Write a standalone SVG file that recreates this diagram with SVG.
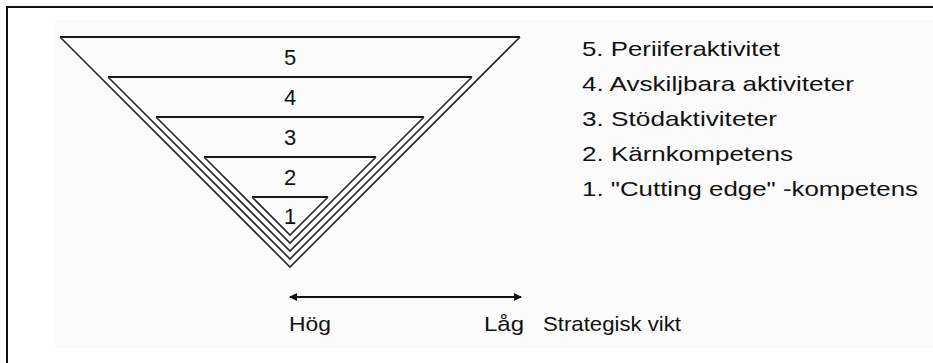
<svg xmlns="http://www.w3.org/2000/svg" width="933" height="363" viewBox="0 0 933 363">
  <style>
    .top { stroke: #1a1a1a; stroke-width: 2; fill: none; }
    .side { stroke: #2a2a2a; stroke-width: 1.6; fill: none; stroke-linejoin: miter; }
    .num { font-family: "Liberation Sans", Arial, sans-serif; font-size: 22px; fill: #111; text-anchor: middle; }
    .lbl { font-family: "Liberation Sans", Arial, sans-serif; font-size: 21px; fill: #111; }
    .axis { stroke: #111; stroke-width: 2; fill: none; }
  </style>
  <defs>
    <marker id="head" viewBox="0 0 8 8" refX="7" refY="4" markerWidth="8" markerHeight="8" markerUnits="userSpaceOnUse" orient="auto-start-reverse">
      <path d="M0,0 L8,4 L0,8 Z" fill="#111"/>
    </marker>
  </defs>

  <rect x="0" y="0" width="933" height="363" fill="#ffffff"/>
  <rect x="55" y="20" width="878" height="328" fill="#fbfbfb"/>

  <!-- frame -->
  <path d="M7,363 V7 H933" stroke="#111" stroke-width="2" fill="none"/>

  <!-- nested levels of the inverted triangle -->
  <g id="level5">
    <line class="top" x1="60" y1="37" x2="520" y2="37"/>
    <polyline class="side" points="60,37 290,267 520,37"/>
    <text class="num" x="290" y="65">5</text>
  </g>
  <g id="level4">
    <line class="top" x1="108" y1="77" x2="472" y2="77"/>
    <polyline class="side" points="108,77 290,259 472,77"/>
    <text class="num" x="290" y="105">4</text>
  </g>
  <g id="level3">
    <line class="top" x1="156" y1="117" x2="424" y2="117"/>
    <polyline class="side" points="156,117 290,251 424,117"/>
    <text class="num" x="290" y="145">3</text>
  </g>
  <g id="level2">
    <line class="top" x1="204" y1="157" x2="376" y2="157"/>
    <polyline class="side" points="204,157 290,243 376,157"/>
    <text class="num" x="290" y="185">2</text>
  </g>
  <g id="level1">
    <line class="top" x1="252" y1="197" x2="328" y2="197"/>
    <polyline class="side" points="252,197 290,235 328,197"/>
    <text class="num" x="290" y="224">1</text>
  </g>

  <!-- legend -->
  <g id="legend">
    <text class="lbl" x="582" y="56" textLength="198" lengthAdjust="spacingAndGlyphs">5. Periiferaktivitet</text>
    <text class="lbl" x="582" y="91" textLength="272" lengthAdjust="spacingAndGlyphs">4. Avskiljbara aktiviteter</text>
    <text class="lbl" x="582" y="126" textLength="195" lengthAdjust="spacingAndGlyphs">3. Stödaktiviteter</text>
    <text class="lbl" x="582" y="161" textLength="211" lengthAdjust="spacingAndGlyphs">2. Kärnkompetens</text>
    <text class="lbl" x="582" y="196" textLength="336" lengthAdjust="spacingAndGlyphs">1. "Cutting edge" -kompetens</text>
  </g>

  <!-- strategic importance axis -->
  <g id="connectors">
    <line class="axis" x1="290" y1="297" x2="521" y2="297" marker-start="url(#head)" marker-end="url(#head)"/>
  </g>
  <g id="axis-labels">
    <text class="lbl" x="289" y="331" textLength="42" lengthAdjust="spacingAndGlyphs">Hög</text>
    <text class="lbl" x="484" y="331" textLength="40" lengthAdjust="spacingAndGlyphs">Låg</text>
    <text class="lbl" x="543" y="331" textLength="138" lengthAdjust="spacingAndGlyphs">Strategisk vikt</text>
  </g>
</svg>
